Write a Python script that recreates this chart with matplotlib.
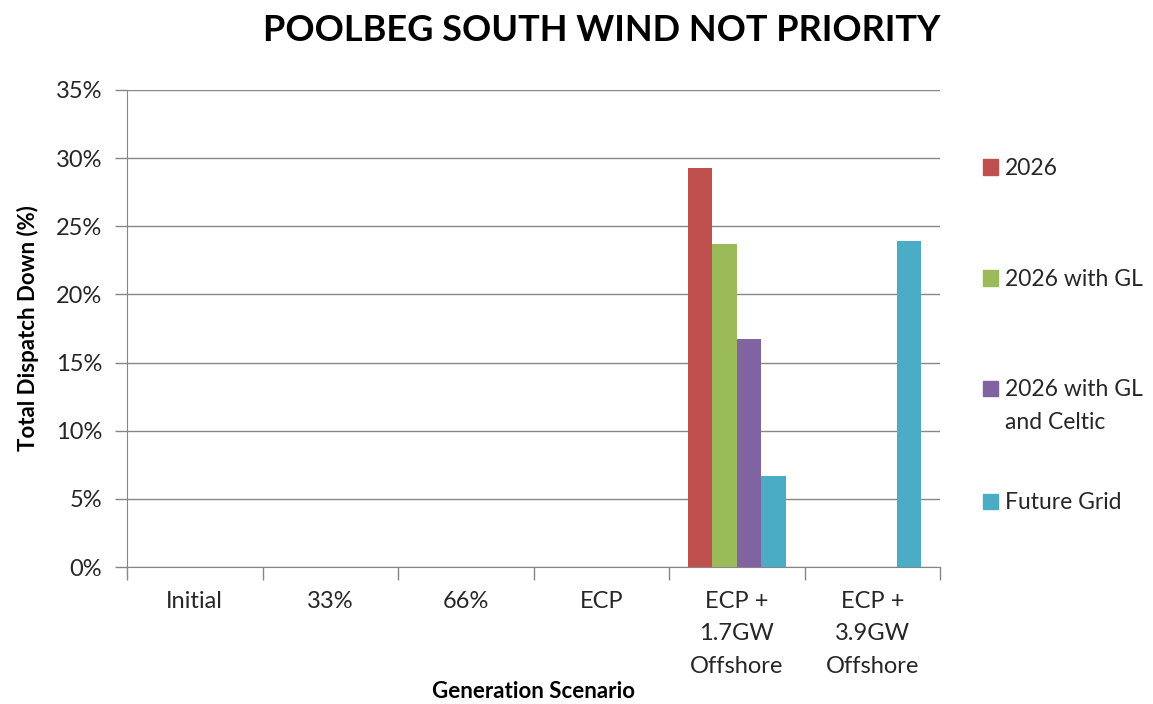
import numpy as np
import matplotlib.pyplot as plt
from matplotlib.patches import Rectangle
from matplotlib.ticker import FuncFormatter

plt.rcParams['font.family'] = ['Lato', 'DejaVu Sans']

categories = ["Initial", "33%", "66%", "ECP", "ECP +\n1.7GW\nOffshore", "ECP +\n3.9GW\nOffshore"]
series_names = ["2026", "2026 with GL", "2026 with GL\nand Celtic", "Future Grid"]
s_2026 = [0, 0, 0, 0, 29.3, 0]
s_2026_gl = [0, 0, 0, 0, 23.7, 0]
s_2026_gl_celtic = [0, 0, 0, 0, 16.7, 0]
s_future_grid = [0, 0, 0, 0, 6.7, 23.9]
colors = ["#C0504D", "#9BBB59", "#8064A2", "#4BACC6"]

values = [s_2026, s_2026_gl, s_2026_gl_celtic, s_future_grid]

W, H = 1153, 704
fig = plt.figure(figsize=(W / 100, H / 100), dpi=100)
ax = fig.add_axes([127/W, 1 - 567/H, (940-127)/W, (567-90)/H])

x = np.arange(len(categories))
w = 0.18
for i, (vals, name, c) in enumerate(zip(values, series_names, colors)):
    ax.bar(x + (i - 1.5) * w, vals, w, color=c, label=name, zorder=3)

ax.set_xlim(-0.5, len(categories) - 0.5)
ax.set_ylim(0, 35)
ax.set_yticks(np.arange(0, 36, 5))
ax.yaxis.set_major_formatter(FuncFormatter(lambda v, p: f"{v:.0f}%"))
ax.grid(axis='y', color='#868686', linewidth=1, zorder=0)

ax.set_xticks(x)
ax.set_xticklabels(categories, fontsize=17, color='#262626', linespacing=1.68)
ax.set_xticks(np.arange(-0.5, len(categories), 1), minor=True)
ax.tick_params(axis='x', which='major', length=0, pad=17)
ax.tick_params(axis='x', which='minor', length=9, color='#868686', width=1)
ax.tick_params(axis='y', length=9, color='#868686', width=1, labelsize=17,
               labelcolor='#262626', pad=9)

for s in ['top', 'right']:
    ax.spines[s].set_visible(False)
for s in ['left', 'bottom']:
    ax.spines[s].set_color('#868686')

ax.set_xlabel("Generation Scenario", fontsize=16, fontweight='bold', labelpad=3)
ax.set_ylabel("Total Dispatch Down (%)", fontsize=16, fontweight='bold', labelpad=12)
fig.suptitle("POOLBEG SOUTH WIND NOT PRIORITY", fontsize=26, fontweight='bold',
             x=602/W, y=1 - 14/H, va='top')

# legend laid out like the Excel one: entries evenly spaced, handle on first line
leg_y = [167, 278, 388, 501]
for name, c, yy in zip(series_names, colors, leg_y):
    fig.patches.append(Rectangle((983/W, 1 - (yy + 7.5)/H), 15/W, 15/H,
                                 transform=fig.transFigure, color=c))
    fig.text(1005/W, 1 - (yy - 9)/H, name, fontsize=16.5, color='#262626',
             va='top', ha='left', linespacing=1.7)

fig.savefig("out.png", dpi=100)
